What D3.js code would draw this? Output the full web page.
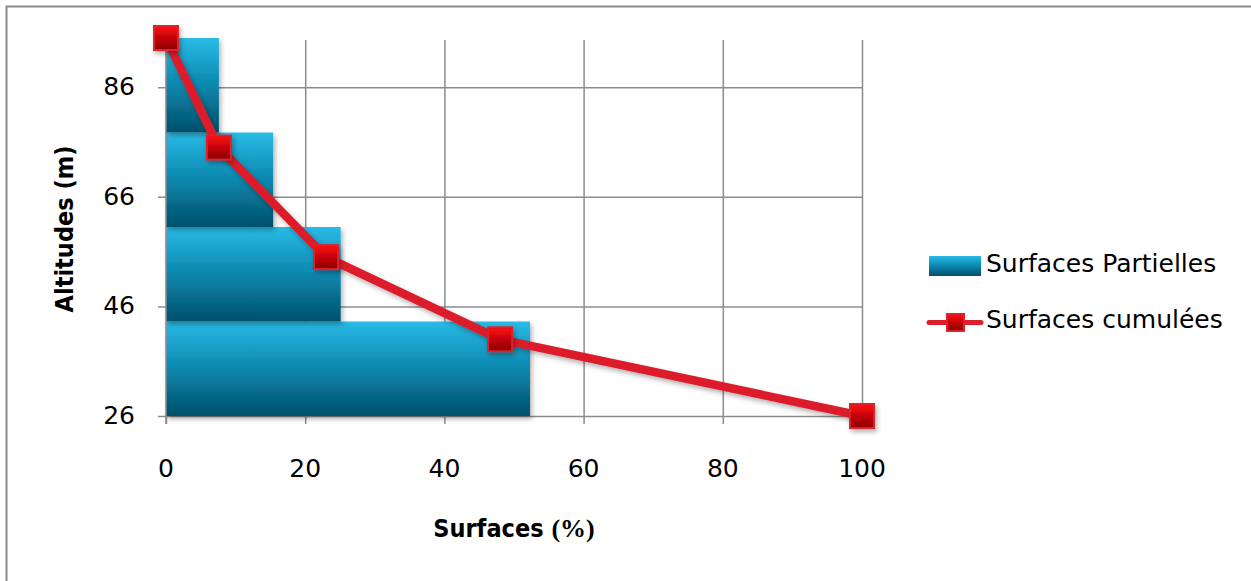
<!DOCTYPE html>
<html>
<head>
<meta charset="utf-8">
<script src="https://cdn.jsdelivr.net/npm/d3@7"></script>
<style>
  body { margin: 0; background: #fff; }
  svg text { font-family: "DejaVu Sans", sans-serif; fill: #000; }
  .title { font-family: "DejaVu Sans Condensed", "DejaVu Sans", sans-serif; font-weight: bold; font-size: 25px; }
</style>
</head>
<body>
<svg width="1251" height="581"></svg>
<script>
// altitude classes (bottom to top) and partial surfaces (%)
const classes = ['26-40', '40-55', '55-75', '75-95'];
const partial = [52.3, 25.1, 15.4, 7.6];
// cumulative curve
const cumSurface = [0, 7.6, 23, 48, 100];
const cumAltitude = [95, 75, 55, 40, 26];
const xTicks = [0, 20, 40, 60, 80, 100];
const yTicks = [26, 46, 66, 86];

const svg = d3.select('svg');

const xScale = d3.scaleLinear().domain([0, 100]).range([166, 862]);
const yScale = d3.scaleLinear().domain([26, 95]).range([416, 38]);
const yBand = d3.scaleBand().domain(classes)
  .range([yScale(26), yScale(95)]).paddingInner(0).paddingOuter(0);

const defs = svg.append('defs');
const barGrad = defs.append('linearGradient').attr('id', 'barGrad')
  .attr('x1', 0).attr('y1', 0).attr('x2', 0).attr('y2', 1);
barGrad.append('stop').attr('offset', '0%').attr('stop-color', '#29bbe6');
barGrad.append('stop').attr('offset', '50%').attr('stop-color', '#0a87ad');
barGrad.append('stop').attr('offset', '100%').attr('stop-color', '#03506a');

const mGrad = defs.append('linearGradient').attr('id', 'mGrad')
  .attr('x1', 0).attr('y1', 0).attr('x2', 0).attr('y2', 1);
mGrad.append('stop').attr('offset', '0%').attr('stop-color', '#ff0a14');
mGrad.append('stop').attr('offset', '100%').attr('stop-color', '#8a0000');

const shadow = defs.append('filter').attr('id', 'shadow')
  .attr('x', '-30%').attr('y', '-30%').attr('width', '170%').attr('height', '170%');
shadow.append('feDropShadow').attr('dx', 2).attr('dy', 3).attr('stdDeviation', 2.5)
  .attr('flood-color', '#000').attr('flood-opacity', 0.3);

// outer border
svg.append('rect')
  .attr('x', 6.5).attr('y', 6.5).attr('width', 1300).attr('height', 700)
  .attr('fill', 'none').attr('stroke', '#8c8c8c').attr('stroke-width', 2);

// grid
const xAxis = d3.axisBottom(xScale).tickValues(xTicks)
  .tickSize(-(416 - 38)).tickFormat('');
const xGrid = svg.append('g').attr('transform', 'translate(0,416)').call(xAxis);
xGrid.selectAll('.domain').remove();
xGrid.selectAll('line').attr('stroke', '#8c8c8c').attr('stroke-width', 1.5)
  .attr('y2', -(416 - 40)).attr('y1', 8);

const yAxis = d3.axisLeft(yScale).tickValues(yTicks)
  .tickSize(-(862 - 166)).tickFormat('');
const yGrid = svg.append('g').attr('transform', 'translate(166,0)').call(yAxis);
yGrid.selectAll('.domain').remove();
yGrid.selectAll('line').attr('stroke', '#8c8c8c').attr('stroke-width', 1.5)
  .attr('x1', -8);

// bars
svg.append('g').selectAll('rect').data(classes).join('rect')
  .attr('x', xScale(0))
  .attr('y', d => yBand(d))
  .attr('width', (d, i) => xScale(partial[i]) - xScale(0))
  .attr('height', yBand.bandwidth())
  .attr('fill', 'url(#barGrad)')
  .attr('filter', 'url(#shadow)');

// y axis line
svg.append('line').attr('x1', 166).attr('x2', 166).attr('y1', 38).attr('y2', 424)
  .attr('stroke', '#8c8c8c').attr('stroke-width', 1.5);

// tick labels
svg.append('g').selectAll('text').data(yTicks).join('text')
  .attr('x', 135).attr('y', d => yScale(d) + 8)
  .attr('text-anchor', 'end').style('font-size', '25px')
  .text(d => d);
svg.append('g').selectAll('text').data(xTicks).join('text')
  .attr('x', d => xScale(d)).attr('y', 477)
  .attr('text-anchor', 'middle').style('font-size', '25px')
  .text(d => d);

// cumulative line
const pts = cumSurface.map((s, i) => [s, cumAltitude[i]]);
const line = d3.line().x(d => xScale(d[0])).y(d => yScale(d[1]));
svg.append('path').attr('d', line(pts))
  .attr('fill', 'none').attr('stroke', '#dc1f2a').attr('stroke-width', 8.5)
  .attr('stroke-linejoin', 'round').attr('filter', 'url(#shadow)');
svg.append('g').selectAll('rect').data(pts).join('rect')
  .attr('x', d => xScale(d[0]) - 12).attr('y', d => yScale(d[1]) - 12)
  .attr('width', 24).attr('height', 24)
  .attr('fill', 'url(#mGrad)').attr('stroke', '#e0202a').attr('stroke-width', 2)
  .attr('filter', 'url(#shadow)');

// axis titles
svg.append('text').attr('class', 'title')
  .attr('transform', 'translate(73,229) rotate(-90)')
  .attr('text-anchor', 'middle')
  .text('Altitudes (m)');
const xt = svg.append('text').attr('class', 'title').attr('x', 514).attr('y', 537)
  .attr('text-anchor', 'middle');
xt.append('tspan').text('Surfaces ');
xt.append('tspan').style('font-family', '"Liberation Serif", serif').style('font-size', '26px').text('(%)');

// legend
const lg = svg.append('g');
lg.append('rect').attr('x', 929).attr('y', 256).attr('width', 52).attr('height', 20)
  .attr('fill', 'url(#barGrad)');
lg.append('text').attr('x', 986).attr('y', 272).style('font-size', '25px')
  .text('Surfaces Partielles');
lg.append('line').attr('x1', 929).attr('x2', 981).attr('y1', 322.5).attr('y2', 322.5)
  .attr('stroke', '#dc1f2a').attr('stroke-width', 5).attr('stroke-linecap', 'round');
lg.append('rect').attr('x', 947).attr('y', 314).attr('width', 17).attr('height', 17)
  .attr('fill', 'url(#mGrad)').attr('stroke', '#e0202a').attr('stroke-width', 2);
lg.append('text').attr('x', 986).attr('y', 328).style('font-size', '25px')
  .text('Surfaces cumulées');
</script>
</body>
</html>
